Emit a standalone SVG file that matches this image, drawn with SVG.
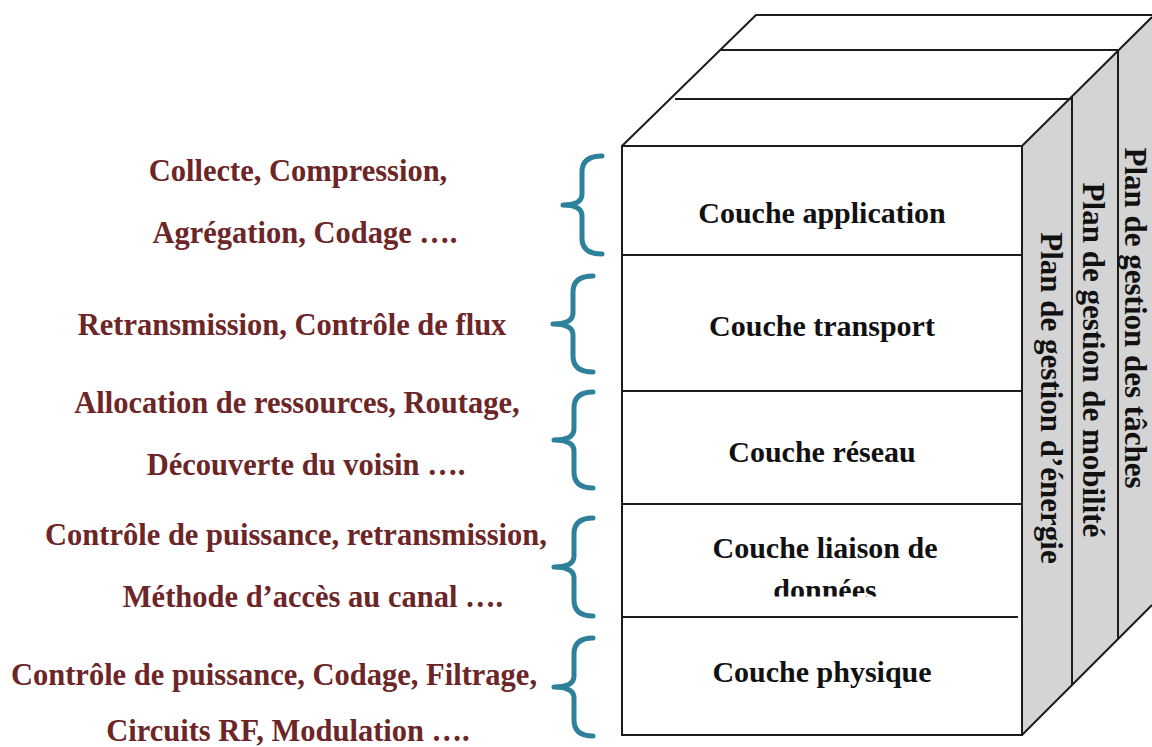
<svg xmlns="http://www.w3.org/2000/svg" width="1152" height="747" viewBox="0 0 1152 747">
  <defs>
    <style>
      .edge { fill: none; stroke: #1c1c1c; stroke-width: 2; }
      .face { fill: #ffffff; }
      .side { fill: #d4d4d4; }
      .layer { font-family: "Liberation Serif", "Times New Roman", serif; font-weight: bold; font-size: 30px; fill: #111111; text-anchor: middle; }
      .plane { font-family: "Liberation Serif", "Times New Roman", serif; font-weight: bold; font-size: 31px; fill: #111111; text-anchor: middle; }
      .note { font-family: "Liberation Serif", "Times New Roman", serif; font-weight: bold; font-size: 30.5px; fill: #6d2627; text-anchor: middle; }
      .brace { fill: none; stroke: #2e819a; stroke-width: 5; stroke-linecap: round; stroke-linejoin: round; }
    </style>
    <clipPath id="clip-liaison">
      <rect x="622" y="505" width="400" height="91.5"/>
    </clipPath>
  </defs>

  <rect width="1152" height="747" fill="#ffffff"/>

  <!-- 3D block: top face, side face with management planes, front face -->
  <g id="block">
    <polygon class="face" points="622,146 756,15 1152,15 1152,17 1022,146"/>
    <polygon class="side" points="1022,146 1152,17 1152,605 1022,735"/>
    <rect class="face" x="622" y="146" width="400" height="589"/>
    <!-- top face outline and plane edges -->
    <path class="edge" d="M622,146 L756,15 L1152,15"/>
    <path class="edge" d="M720,50 L1118,50"/>
    <path class="edge" d="M675,99 L1072,99"/>
    <path class="edge" d="M1022,146 L1152,17"/>
    <!-- plane separators on the side face -->
    <path class="edge" d="M1072,97 L1072,685"/>
    <path class="edge" d="M1118,51 L1118,639"/>
    <path class="edge" d="M1022,735 L1152,605"/>
    <!-- front face -->
    <rect class="edge" x="622" y="146" width="400" height="589"/>
  </g>

  <!-- protocol layers -->
  <g id="layer-application">
    <text class="layer" x="822" y="223">Couche application</text>
  </g>
  <g id="layer-transport">
    <line class="edge" x1="622" y1="255" x2="1022" y2="255"/>
    <text class="layer" x="822" y="336">Couche transport</text>
  </g>
  <g id="layer-reseau">
    <line class="edge" x1="622" y1="391" x2="1022" y2="391"/>
    <text class="layer" x="822" y="462">Couche réseau</text>
  </g>
  <g id="layer-liaison">
    <line class="edge" x1="622" y1="504" x2="1022" y2="504"/>
    <text class="layer" x="825" y="558">Couche liaison de</text>
    <text class="layer" x="825" y="600" clip-path="url(#clip-liaison)">données</text>
  </g>
  <g id="layer-physique">
    <line class="edge" x1="622" y1="617" x2="1018" y2="617"/>
    <text class="layer" x="822" y="682">Couche physique</text>
  </g>

  <!-- management planes -->
  <g id="plane-taches">
    <text class="plane" transform="translate(1125,318) rotate(90)">Plan de gestion des tâches</text>
  </g>
  <g id="plane-mobilite">
    <text class="plane" transform="translate(1083,360) rotate(90)">Plan de gestion de mobilité</text>
  </g>
  <g id="plane-energie">
    <text class="plane" transform="translate(1041,398) rotate(90)">Plan de gestion d’énergie</text>
  </g>

  <!-- functions of each layer -->
  <g id="fn-application">
    <text class="note" x="298" y="181">Collecte, Compression,</text>
    <text class="note" x="305" y="243">Agrégation, Codage ….</text>
  </g>
  <g id="fn-transport">
    <text class="note" x="292" y="335">Retransmission, Contrôle de flux</text>
  </g>
  <g id="fn-reseau">
    <text class="note" x="297" y="413">Allocation de ressources, Routage,</text>
    <text class="note" x="306" y="475">Découverte du voisin ….</text>
  </g>
  <g id="fn-liaison">
    <text class="note" x="296" y="545">Contrôle de puissance, retransmission,</text>
    <text class="note" x="313" y="607">Méthode d’accès au canal ….</text>
  </g>
  <g id="fn-physique">
    <text class="note" x="274" y="685">Contrôle de puissance, Codage, Filtrage,</text>
    <text class="note" x="288" y="741">Circuits RF, Modulation ….</text>
  </g>

  <!-- braces linking each function list to its layer -->
  <g id="connectors">
    <path class="brace" d="M602,156 Q582,156 582,172 L582,194 Q582,205 563,205 Q582,205 582,216 L582,238 Q582,254 602,254"/>
    <path class="brace" d="M593,276 Q573,276 573,292 L573,313 Q573,324 553,324 Q573,324 573,335 L573,356 Q573,372 593,372"/>
    <path class="brace" d="M593,392 Q574,392 574,408 L574,429 Q574,440 554,440 Q574,440 574,451 L574,472 Q574,488 593,488"/>
    <path class="brace" d="M593,518 Q574,518 574,534 L574,556 Q574,567 554,567 Q574,567 574,578 L574,600 Q574,616 593,616"/>
    <path class="brace" d="M593,638 Q574,638 574,654 L574,676 Q574,687 554,687 Q574,687 574,698 L574,720 Q574,736 593,736"/>
  </g>
</svg>
